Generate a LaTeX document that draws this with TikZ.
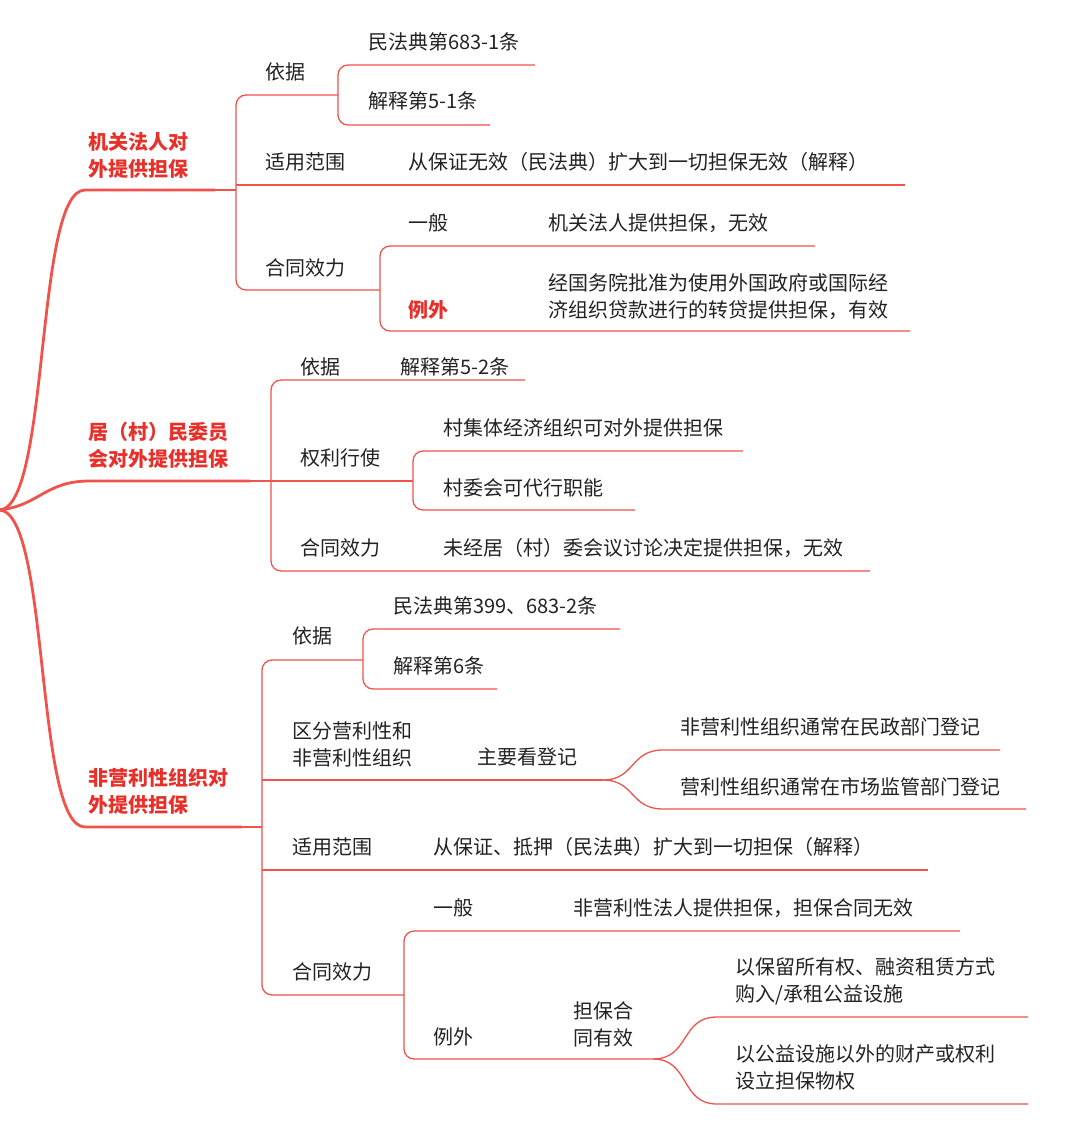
\documentclass[tikz,border=0pt]{standalone}
\usepackage{fontspec}
\setmainfont{Noto Sans CJK SC}
\definecolor{lr}{HTML}{F0524C}
\definecolor{tr}{HTML}{E8302A}
\definecolor{tx}{HTML}{222222}
\begin{document}
\begin{tikzpicture}[x=1pt,y=-1pt,
  ln/.style={draw=lr,line width=1.3pt,rounded corners=10pt},
  thick1/.style={draw=lr,line width=2.8pt},
  t/.style={anchor=west,inner sep=0pt,text=tx,font=\fontsize{20}{27}\selectfont,align=left},
  rt/.style={t,text=tr,font=\fontsize{20}{27}\selectfont\bfseries}]
\useasboundingbox (0,0) rectangle (1080,1139);
% root curves
\coordinate (root) at (0,510);
\draw[thick1] (root) .. controls (50,505) and (35,190) .. (85,190) -- (215,190);
\draw[thick1] (root) .. controls (40,505) and (45,481) .. (90,481) -- (250,481);
\draw[thick1] (root) .. controls (50,515) and (35,827) .. (85,827) -- (242,827);
% branch titles
\node[rt] (b1) at (88,155) {机关法人对\\外提供担保};
\node[rt] (b2) at (88,445) {居（村）民委员\\会对外提供担保};
\node[rt] (b3) at (88,791) {非营利性组织对\\外提供担保};
% ---- B1
\draw[ln] (215,190) -- (236,190);
\draw[ln] (338,95) -- (236,95) -- (236,290) -- (380,290);
\draw[ln] (236,185) -- (905,185);
\draw[ln] (535,65) -- (338,65) -- (338,125) -- (490,125);
\draw[ln] (815,246) -- (380,246) -- (380,331) -- (910,331);
\node[t] (a1) at (265,72) {依据};
\node[t] (a11) at (368,42) {民法典第683-1条};
\node[t] (a12) at (368,101) {解释第5-1条};
\node[t] (a2) at (265,162) {适用范围};
\node[t] (a21) at (408,162) {从保证无效（民法典）扩大到一切担保无效（解释）};
\node[t] (a3) at (265,268) {合同效力};
\node[t] (a31) at (408,223) {一般};
\node[t] (a311) at (548,223) {机关法人提供担保，无效};
\node[rt] (a32) at (408,310) {例外};
\node[t] (a321) at (548,297) {经国务院批准为使用外国政府或国际经\\济组织贷款进行的转贷提供担保，有效};
% ---- B2
\draw[ln] (525,380) -- (271,380) -- (271,571) -- (870,571);
\draw[ln] (250,481) -- (413,481);
\draw[ln] (743,451) -- (413,451) -- (413,510) -- (635,510);
\node[t] (c1) at (300,367) {依据};
\node[t] (c11) at (400,367) {解释第5-2条};
\node[t] (c2) at (300,458) {权利行使};
\node[t] (c21) at (443,428) {村集体经济组织可对外提供担保};
\node[t] (c22) at (443,488) {村委会可代行职能};
\node[t] (c3) at (300,548) {合同效力};
\node[t] (c31) at (443,548) {未经居（村）委会议讨论决定提供担保，无效};
% ---- B3
\draw[ln] (242,827) -- (262,827);
\draw[ln] (363,660) -- (262,660) -- (262,995) -- (404,995);
\draw[ln] (620,629) -- (363,629) -- (363,689) -- (497,689);
\draw[ln] (262,780) -- (603,780);
\draw[lr,line width=1.3pt] (603,780) .. controls (635,780) and (630,750) .. (663,750) -- (1000,750);
\draw[lr,line width=1.3pt] (603,780) .. controls (635,780) and (630,809) .. (663,809) -- (1026,809);
\draw[ln] (262,870) -- (928,870);
\draw[ln] (960,931) -- (404,931) -- (404,1059) -- (653,1059);
\draw[lr,line width=1.3pt] (653,1059) .. controls (690,1059) and (680,1017) .. (717,1017) -- (1028,1017);
\draw[lr,line width=1.3pt] (653,1059) .. controls (690,1059) and (680,1104) .. (717,1104) -- (1028,1104);
\node[t] (d1) at (292,636) {依据};
\node[t] (d11) at (393,606) {民法典第399、683-2条};
\node[t] (d12) at (393,666) {解释第6条};
\node[t] (d2) at (292,744) {区分营利性和\\非营利性组织};
\node[t] (d21) at (477,757) {主要看登记};
\node[t] (d211) at (680,727) {非营利性组织通常在民政部门登记};
\node[t] (d212) at (680,787) {营利性组织通常在市场监管部门登记};
\node[t] (d3) at (292,847) {适用范围};
\node[t] (d31) at (433,847) {从保证、抵押（民法典）扩大到一切担保（解释）};
\node[t] (d4) at (292,972) {合同效力};
\node[t] (d41) at (433,908) {一般};
\node[t] (d411) at (573,908) {非营利性法人提供担保，担保合同无效};
\node[t] (d42) at (433,1037) {例外};
\node[t] (d421) at (573,1024) {担保合\\同有效};
\node[t] (d4211) at (735,981) {以保留所有权、融资租赁方式\\购入/承租公益设施};
\node[t] (d4212) at (735,1067) {以公益设施以外的财产或权利\\设立担保物权};
\end{tikzpicture}
\end{document}
